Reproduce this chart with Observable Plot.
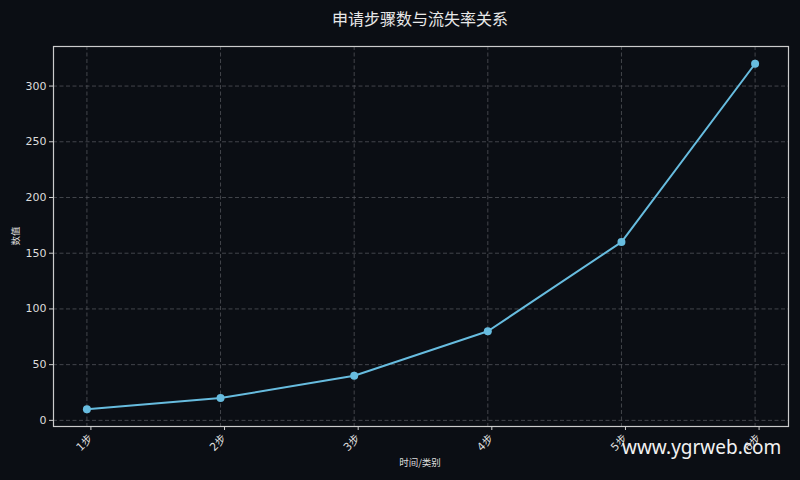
<!DOCTYPE html>
<html><head><meta charset="utf-8">
<script src="https://cdn.jsdelivr.net/npm/d3@7"></script>
<script src="https://cdn.jsdelivr.net/npm/@observablehq/plot@0.6"></script>
<style>
body{margin:0;background:#0b0e14;width:800px;height:480px;overflow:hidden;position:relative;}
#chart{position:absolute;left:0;top:0;}
.ov{position:absolute;white-space:nowrap;color:#e8e8e8;}
#title{top:6px;left:0;width:840px;text-align:center;font:16px "Noto Sans CJK SC",sans-serif;}
#xl{top:455px;left:0;width:840px;text-align:center;font:9.5px "Noto Sans CJK SC",sans-serif;color:#ddd;}
#yl{left:5px;top:229px;font:9.5px "Noto Sans CJK SC",sans-serif;color:#ddd;transform:rotate(-90deg);transform-origin:center;}
#wm{left:622px;top:434px;font:19px "Noto Sans",sans-serif;color:#f2f2f2;}
</style></head>
<body>
<div id="chart"></div>
<div class="ov" id="title">申请步骤数与流失率关系</div>
<div class="ov" id="xl">时间/类别</div>
<div class="ov" id="yl">数值</div>
<div class="ov" id="wm">www.ygrweb.com</div>
<script>
const categories = ["1步","2步","3步","4步","5步","6步"];
const values = [10, 20, 40, 80, 160, 320];
const yTicks = [0, 50, 100, 150, 200, 250, 300];
const data = categories.map((c, i) => ({step: c, value: values[i]}));
const lineColor = "#67bcdf";
const plot = Plot.plot({
  width: 800, height: 480,
  marginLeft: 53, marginRight: 12, marginTop: 46, marginBottom: 54,
  style: {background: "transparent", color: "#dddddd", fontSize: "11px", fontFamily: "'DejaVu Sans','Noto Sans CJK SC',sans-serif"},
  x: {type: "point", domain: categories, padding: 0.25, round: false, label: null},
  y: {domain: [-5.5, 335.5], label: null},
  marks: [
    Plot.gridX(categories, {stroke: "#505359", strokeOpacity: 1, strokeDasharray: "4,2.5", strokeWidth: 0.8}),
    Plot.gridY(yTicks, {stroke: "#505359", strokeOpacity: 1, strokeDasharray: "4,2.5", strokeWidth: 0.8}),
    Plot.frame({stroke: "#cccccc", strokeWidth: 1.2}),
    Plot.axisX(categories, {tickRotate: -45, tickSize: 4, tickPadding: 6, stroke: "#cccccc", fill: "#dddddd", label: null, fontSize: 11, dx: 4}),
    Plot.axisY(yTicks, {tickSize: 4, tickPadding: 3, stroke: "#cccccc", fill: "#dddddd", label: null}),
    Plot.line(data, {x: "step", y: "value", stroke: lineColor, strokeWidth: 2}),
    Plot.dot(data, {x: "step", y: "value", fill: lineColor, r: 4})
  ]
});
document.getElementById("chart").append(plot);
</script>
</body></html>
